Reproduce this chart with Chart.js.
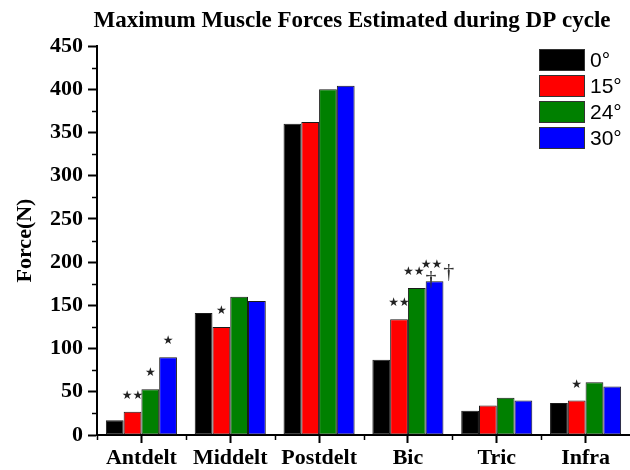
<!DOCTYPE html>
<html>
<head>
<meta charset="utf-8">
<script src="https://cdn.jsdelivr.net/npm/chart.js@4.4.1/dist/chart.umd.min.js"></script>
<style>
  html, body { margin: 0; padding: 0; background: #ffffff; }
  #wrap { width: 630px; height: 470px; position: relative; }
</style>
</head>
<body>
<div id="wrap"><canvas id="c" width="630" height="470"></canvas></div>
<script>
// ---- data ----
const chartTitle = 'Maximum Muscle Forces Estimated during DP cycle';
const yAxisTitle = 'Force(N)';
const categories = ['Antdelt', 'Middelt', 'Postdelt', 'Bic', 'Tric', 'Infra'];
const seriesLabels = ['0°', '15°', '24°', '30°'];
const deg0  = [17, 141, 360, 87, 28, 37];
const deg15 = [27, 125, 362, 134, 34, 40];
const deg24 = [53, 160, 400, 170, 43, 61];
const deg30 = [90, 155, 404, 178, 40, 56];
const notes0  = ['', '', '', '', '', ''];
const notes15 = ['**', '*', '', '**', '', '*'];
const notes24 = ['*', '', '', '**†', '', ''];
const notes30 = ['*', '', '', '**†', '', ''];
const yTicks = [0, 50, 100, 150, 200, 250, 300, 350, 400, 450];

const colors = ['#000000', '#ff0000', '#008000', '#0000ff'];
const seriesValues = [deg0, deg15, deg24, deg30];
const seriesNotes = [notes0, notes15, notes24, notes30];

const serif = '"Liberation Serif", "Times New Roman", serif';
const sans = '"Liberation Sans", Arial, sans-serif';

const extras = {
  id: 'extras',
  afterDraw(chart) {
    const ctx = chart.ctx;
    const area = chart.chartArea;
    const xs = chart.scales.x, ys = chart.scales.y;
    ctx.save();
    // title
    ctx.fillStyle = '#000';
    ctx.font = 'bold 23px ' + serif;
    ctx.textAlign = 'center';
    ctx.textBaseline = 'alphabetic';
    ctx.fillText(chartTitle, 352, 27);

    // minor ticks y
    ctx.strokeStyle = '#000';
    ctx.lineWidth = 1.5;
    for (let i = 0; i < yTicks.length - 1; i++) {
      const v = (yTicks[i] + yTicks[i + 1]) / 2;
      const py = Math.round(ys.getPixelForValue(v)) + 0.5;
      ctx.beginPath();
      ctx.moveTo(area.left, py);
      ctx.lineTo(area.left - 5, py);
      ctx.stroke();
    }
    // minor ticks x (category boundaries)
    for (let i = 0; i < categories.length; i++) {
      const half = (xs.getPixelForValue(1) - xs.getPixelForValue(0)) / 2;
      const px = Math.round(xs.getPixelForValue(i) - half) + 0.5;
      ctx.beginPath();
      ctx.moveTo(px, area.bottom);
      ctx.lineTo(px, area.bottom + 5);
      ctx.stroke();
    }

    // significance marks
    chart.data.datasets.forEach((ds, di) => {
      const meta = chart.getDatasetMeta(di);
      meta.data.forEach((bar, i) => {
        const note = seriesNotes[di][i];
        if (!note) return;
        const stars = note.replace(/[^*]/g, '').replace(/\*/g, '★');
        const dagger = note.indexOf('†') >= 0;
        const cy = bar.y - 16;
        ctx.fillStyle = '#222';
        ctx.font = '12px "DejaVu Sans", sans-serif';
        ctx.textBaseline = 'middle';
        const sw = ctx.measureText(stars).width;
        let startX = bar.x - sw / 2 - (dagger ? 3 : 0);
        ctx.textAlign = 'left';
        ctx.fillText(stars, startX, cy);
        if (dagger) {
          ctx.font = '22px ' + serif;
          ctx.fillStyle = '#333';
          ctx.fillText('†', startX + sw + 1, cy + 7);
        }
      });
    });

    // legend
    const bx = 539, bw = 46, bh = 22, by0 = 49, step = 26;
    chart.data.datasets.forEach((ds, di) => {
      const y = by0 + di * step;
      ctx.fillStyle = ds.backgroundColor;
      ctx.fillRect(bx, y, bw, bh);
      ctx.strokeStyle = '#333';
      ctx.lineWidth = 1;
      ctx.strokeRect(bx + 0.5, y + 0.5, bw - 1, bh - 1);
      ctx.fillStyle = '#000';
      ctx.font = '21px ' + sans;
      ctx.textAlign = 'left';
      ctx.textBaseline = 'middle';
      ctx.fillText(ds.label, bx + bw + 5, y + bh / 2 + 1);
    });
    ctx.restore();
  }
};

new Chart(document.getElementById('c'), {
  type: 'bar',
  data: {
    labels: categories,
    datasets: seriesLabels.map((lab, i) => ({
      label: lab,
      data: seriesValues[i],
      backgroundColor: colors[i],
      borderColor: '#1a1a1a',
      borderWidth: 1,
      borderSkipped: false,
      categoryPercentage: 0.8,
      barPercentage: 1.0
    }))
  },
  options: {
    responsive: false,
    animation: false,
    devicePixelRatio: 1,
    layout: { padding: { top: 46, right: 0, left: 0, bottom: 0 } },
    plugins: { legend: { display: false }, title: { display: false }, tooltip: { enabled: false } },
    scales: {
      x: {
        offset: true,
        grid: { display: true, drawOnChartArea: false, drawTicks: true, tickLength: 8, offset: false, tickColor: '#000', tickWidth: 2 },
        border: { display: true, color: '#000', width: 2 },
        ticks: { color: '#000', font: { family: serif, size: 22, weight: 'bold' }, padding: 2, maxRotation: 0, autoSkip: false },
        afterFit(scale) { scale.height = 35; }
      },
      y: {
        min: 0, max: 450,
        afterBuildTicks(scale) { scale.ticks = yTicks.map(v => ({ value: v })); },
        grid: { display: true, drawOnChartArea: false, drawTicks: true, tickLength: 9, tickColor: '#000', tickWidth: 2 },
        border: { display: true, color: '#000', width: 2 },
        ticks: { color: '#000', font: { family: serif, size: 22, weight: 'bold' }, padding: 5 },
        title: { display: true, text: yAxisTitle, color: '#000', font: { family: serif, size: 22, weight: 'bold' }, padding: { top: 12, bottom: 0 } },
        afterFit(scale) { scale.width = 97; }
      }
    }
  },
  plugins: [extras]
});
</script>
</body>
</html>
